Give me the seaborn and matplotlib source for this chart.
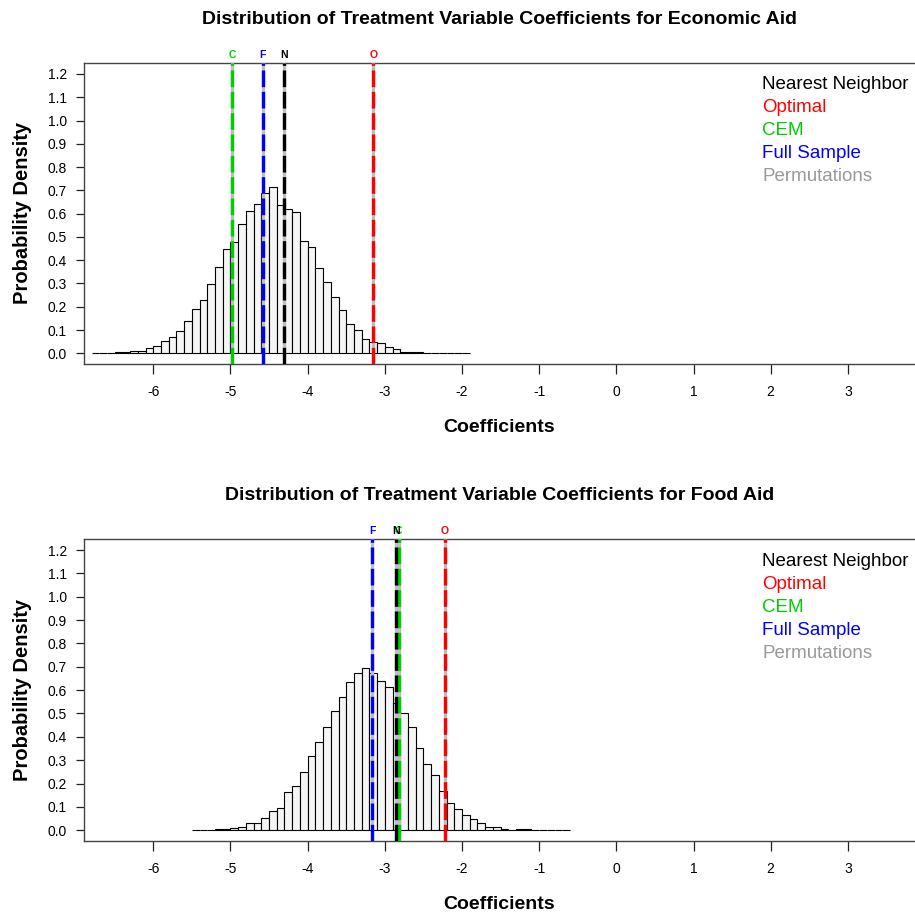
import numpy as np
import pandas as pd
import seaborn as sns
import matplotlib.pyplot as plt

# permutation histogram, bin width 0.1, density per bin
econ_start = -6.8
econ_density = [0.001, 0.003, 0.003, 0.005, 0.007, 0.008, 0.008, 0.022, 0.032, 0.055,
                 0.072, 0.095, 0.138, 0.190, 0.230, 0.296, 0.372, 0.448, 0.477, 0.557,
                 0.611, 0.642, 0.687, 0.716, 0.639, 0.621, 0.606, 0.483, 0.457, 0.368,
                 0.305, 0.244, 0.187, 0.128, 0.100, 0.060, 0.047, 0.046, 0.026, 0.017,
                 0.007, 0.004, 0.004, 0.003, 0.001, 0.0005, 0.0005, 0.0005, 0.0005]

food_start = -5.5
food_density = [0.003, 0.001, 0.001, 0.004, 0.004, 0.011, 0.013, 0.029, 0.029, 0.052,
                0.083, 0.095, 0.162, 0.188, 0.250, 0.316, 0.379, 0.444, 0.509, 0.572,
                0.634, 0.675, 0.694, 0.675, 0.638, 0.615, 0.545, 0.500, 0.441, 0.352,
                0.282, 0.237, 0.170, 0.116, 0.091, 0.065, 0.047, 0.030, 0.016, 0.016,
                0.004, 0.003, 0.004, 0.004, 0.001, 0.001, 0.001, 0.0005, 0.0005]

bin_width = 0.1

# matched estimates
econ_est = {"N": -4.30, "O": -3.15, "C": -4.98, "F": -4.58}
food_est = {"N": -2.86, "O": -2.22, "C": -2.82, "F": -3.16}

method_colors = {"N": "black", "O": "red", "C": "#00CD00", "F": "blue"}
legend_labels = ["Nearest Neighbor", "Optimal", "CEM", "Full Sample", "Permutations"]
legend_colors = ["black", "red", "#00CD00", "blue", "#999999"]

titles = ["Distribution of Treatment Variable Coefficients for Economic Aid",
          "Distribution of Treatment Variable Coefficients for Food Aid"]

sns.set_theme(style="ticks")
plt.rcParams["font.family"] = ["Liberation Sans", "DejaVu Sans"]
plt.rcParams["axes.unicode_minus"] = False
plt.rcParams["text.color"] = "black"
plt.rcParams["axes.labelcolor"] = "black"

fig = plt.figure(figsize=(9.15, 9.16), dpi=100)
ax_top = fig.add_axes([0.0918, 0.6026, 0.9082, 0.329])
ax_bot = fig.add_axes([0.0918, 0.0819, 0.9082, 0.3300])


def draw_panel(ax, start, density, est, title):
    n = len(density)
    edges = np.round(start + bin_width * np.arange(n + 1), 2).tolist()
    centers = [e + bin_width / 2 for e in edges[:-1]]
    df = pd.DataFrame({"coef": centers, "dens": density})
    sns.histplot(data=df, x="coef", weights="dens", bins=edges, ax=ax,
                 color="#F5F5F5", edgecolor="black", linewidth=0.8, alpha=1)

    for key in ["C", "F", "N", "O"]:
        x = est[key]
        ax.axvline(x, color="#BEBEBE", lw=2.4, zorder=3)
        ax.axvline(x, color=method_colors[key], lw=2.4, zorder=4,
                   dashes=(5, 1.4))
        ax.annotate(key, xy=(x, 1), xycoords=("data", "axes fraction"),
                    xytext=(0, 2), textcoords="offset points",
                    ha="center", va="bottom", fontsize=7.5, fontweight="bold",
                    color=method_colors[key], annotation_clip=False)

    for i, (lab, col) in enumerate(zip(legend_labels, legend_colors)):
        ax.text(0.816, 0.926 - i * 0.0763, lab, transform=ax.transAxes,
                ha="left", va="center", fontsize=13.5, color=col)

    ax.set_xlim(-6.898, 3.87)
    ax.set_ylim(-0.046, 1.2486)
    ax.set_xticks(range(-6, 4))
    ax.set_yticks(np.round(np.arange(0, 1.21, 0.1), 1))
    ax.set_yticklabels([f"{v:.1f}" for v in np.arange(0, 1.21, 0.1)])
    ax.tick_params(axis="x", labelsize=10, length=7.2, width=0.9,
                   color="#222222", labelcolor="black", pad=8)
    ax.tick_params(axis="y", labelsize=10, length=5.8, width=0.9,
                   color="#222222", labelcolor="black", pad=6.5)
    for side in ["left", "top", "bottom"]:
        ax.spines[side].set_color("#444444")
        ax.spines[side].set_linewidth(1.0)
    ax.spines["right"].set_visible(False)

    ax.set_title(title, fontsize=14, fontweight="bold", pad=28, color="black")
    ax.set_xlabel("Coefficients", fontsize=14, fontweight="bold", labelpad=14)
    ax.set_ylabel("Probability Density", fontsize=14.5, fontweight="bold", labelpad=11)


draw_panel(ax_top, econ_start, econ_density, econ_est, titles[0])
draw_panel(ax_bot, food_start, food_density, food_est, titles[1])

fig.savefig("out.png", dpi=100)
